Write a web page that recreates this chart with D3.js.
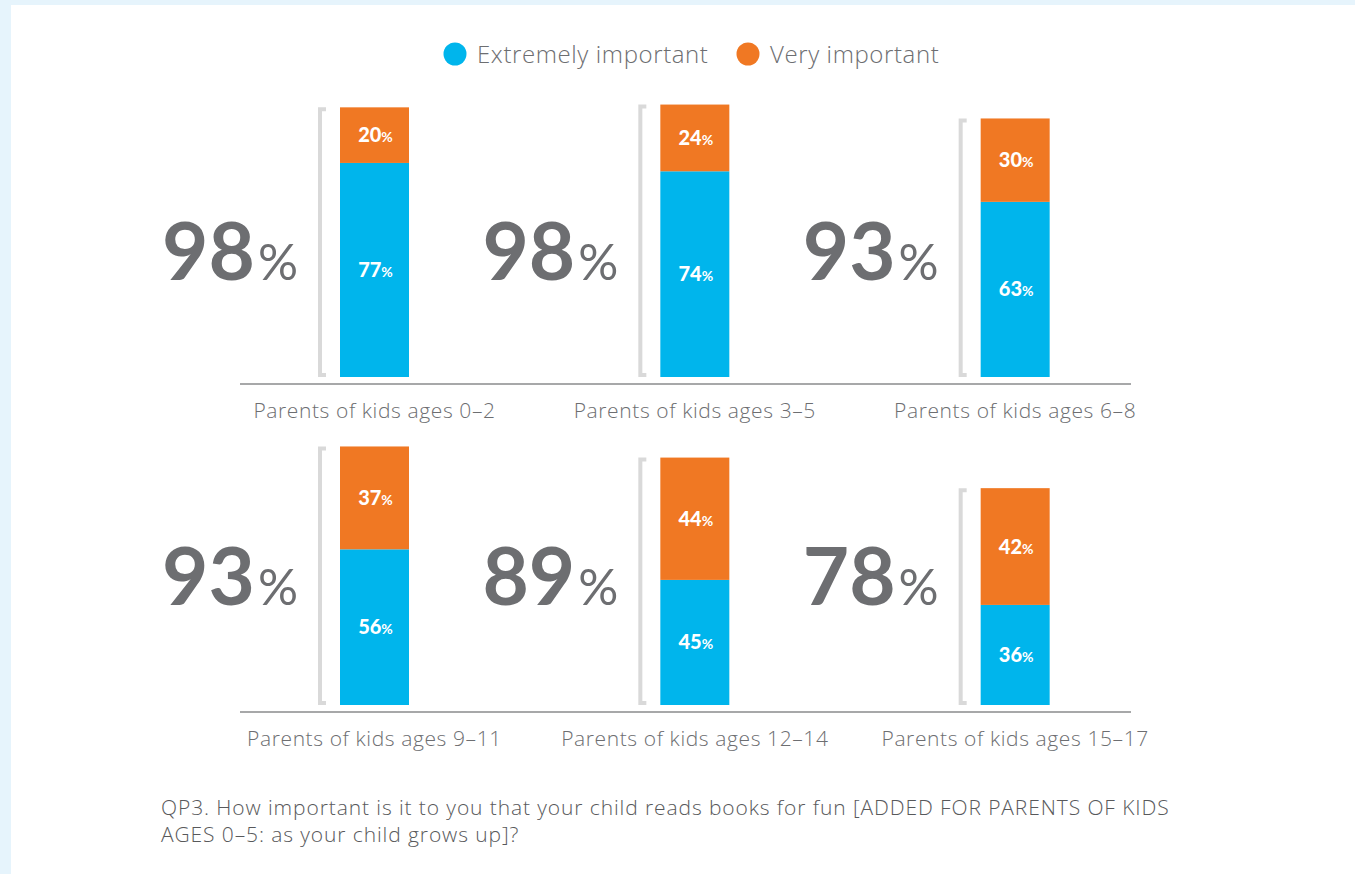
<!DOCTYPE html>
<html>
<head>
<meta charset="utf-8">
<script src="https://cdn.jsdelivr.net/npm/d3@7"></script>
<style>
  body { margin: 0; background: #fff; }
  svg { display: block; }
  .light { font-family: "Open Sans", "Lato", sans-serif; font-weight: 300; fill: #6d6e71; }
  .big { font-family: "Lato", "Open Sans", sans-serif; font-weight: 700; fill: #6d6e71; }
  .lbl { font-family: "Lato", "Open Sans", sans-serif; font-weight: 900; fill: #fff; }
</style>
</head>
<body>
<script>
// data
var groups = ["Parents of kids ages 0\u20132", "Parents of kids ages 3\u20135", "Parents of kids ages 6\u20138",
              "Parents of kids ages 9\u201311", "Parents of kids ages 12\u201314", "Parents of kids ages 15\u201317"];
var extremely = [77, 74, 63, 56, 45, 36];
var very = [20, 24, 30, 37, 44, 42];
var totals = [98, 98, 93, 93, 89, 78];
var seriesNames = ["Extremely important", "Very important"];
var colors = ["#00b5ec", "#f07823"];

var W = 1355, H = 874;
var svg = d3.select("body").append("svg").attr("width", W).attr("height", H);

// light blue frame
svg.append("rect").attr("width", W).attr("height", H).attr("fill", "#e6f4fc");
svg.append("rect").attr("x", 11).attr("y", 5).attr("width", W - 11).attr("height", H - 5).attr("fill", "#fff");

// legend
var leg = svg.append("g");
var legX = [455, 748];
seriesNames.forEach(function(s, i) {
  leg.append("circle").attr("cx", legX[i]).attr("cy", 54).attr("r", 11.5).attr("fill", colors[i]);
  leg.append("text").attr("class", "light").attr("x", legX[i] + 22).attr("y", 63)
    .style("font-size", "24px").style("letter-spacing", "0.6px").text(s);
});

// layout
var col = d3.scaleBand().domain([0, 1, 2]).range([340, 1301]).paddingInner(0).paddingOuter(0);
var barW = 69;
var rowBase = [377, 705];
var pxPerPct = 2.78;

var data = groups.map(function(g, i) {
  return { name: g, ext: extremely[i], very: very[i], total: totals[i], row: Math.floor(i / 3), c: i % 3 };
});

[0, 1].forEach(function(r) {
  var y = d3.scaleLinear().domain([0, 100]).range([rowBase[r], rowBase[r] - 100 * pxPerPct]);
  var g = svg.append("g");

  g.append("line").attr("x1", 240).attr("x2", 1131)
    .attr("y1", rowBase[r] + 7).attr("y2", rowBase[r] + 7)
    .attr("stroke", "#8a8b8d").attr("stroke-width", 1.5);

  var cells = g.selectAll(".cell").data(data.filter(function(d) { return d.row === r; }))
    .enter().append("g").attr("class", "cell")
    .attr("transform", function(d) { return "translate(" + col(d.c) + ",0)"; });

  // bracket
  cells.append("path")
    .attr("d", function(d) {
      var top = y(d.ext + d.very) + 2, bot = y(0) - 2;
      return "M-14," + top + "H-20V" + bot + "H-14";
    })
    .attr("fill", "none").attr("stroke", "#d9d9d9").attr("stroke-width", 4);

  cells.append("rect").attr("x", 0).attr("width", barW)
    .attr("y", function(d) { return y(d.ext); })
    .attr("height", function(d) { return y(0) - y(d.ext); })
    .attr("fill", colors[0]);
  cells.append("rect").attr("x", 0).attr("width", barW)
    .attr("y", function(d) { return y(d.ext + d.very); })
    .attr("height", function(d) { return y(d.ext) - y(d.ext + d.very); })
    .attr("fill", colors[1]);

  // segment labels
  function segLabel(sel, fn) {
    var t = sel.append("text").attr("class", "lbl").attr("text-anchor", "middle")
      .attr("x", barW / 2 + 1).attr("y", function(d) { return fn(d).y + 7; })
      .style("font-size", "20px");
    t.append("tspan").text(function(d) { return fn(d).v; });
    t.append("tspan").style("font-size", "14px").style("font-weight", 700).text("%");
  }
  segLabel(cells, function(d) { return { v: d.ext, y: (y(0) + y(d.ext)) / 2 }; });
  segLabel(cells, function(d) { return { v: d.very, y: (y(d.ext) + y(d.ext + d.very)) / 2 }; });

  // big totals
  var bigY = r === 0 ? 280 : 605;
  var bt = cells.append("text").attr("class", "big").attr("text-anchor", "end")
    .attr("x", -42).attr("y", bigY).style("font-size", "80px");
  bt.append("tspan").text(function(d) { return d.total; });
  bt.append("tspan").style("font-size", "50px").style("font-weight", 400).attr("dx", 3).text("%");

  // category labels
  cells.append("text").attr("class", "light").attr("text-anchor", "middle")
    .attr("x", barW / 2).attr("y", rowBase[r] + 41)
    .style("font-size", "21px").style("letter-spacing", "0.6px").text(function(d) { return d.name; });
});

// caption
var cap = svg.append("text").attr("class", "light").style("font-size", "21px")
  .style("letter-spacing", "0.9px").style("fill", "#58595b");
cap.append("tspan").attr("x", 161).attr("y", 815)
  .text("QP3. How important is it to you that your child reads books for fun [ADDED FOR PARENTS OF KIDS");
cap.append("tspan").attr("x", 161).attr("y", 842).text("AGES 0\u20135: as your child grows up]?");
</script>
</body>
</html>
